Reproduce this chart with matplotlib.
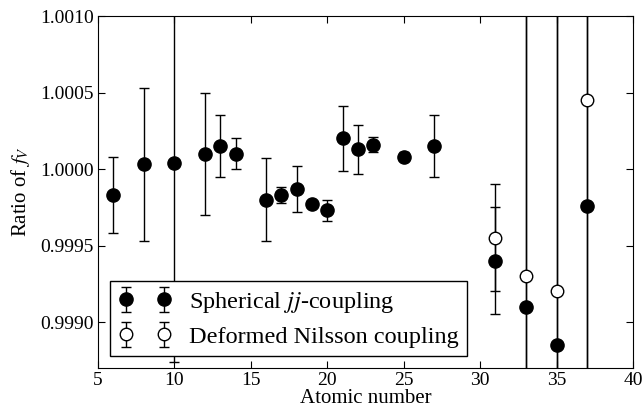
import numpy as np
import matplotlib
matplotlib.use("Agg")
import matplotlib.pyplot as plt

plt.rcParams['font.family'] = ['Liberation Serif', 'DejaVu Serif']
plt.rcParams['mathtext.fontset'] = 'stix'

# Spherical jj-coupling (filled)
z_sph = [6, 8, 10, 12, 13, 14, 16, 17, 18, 19, 20, 21, 22, 23, 25, 27, 31, 33, 35, 37]
r_sph = [0.99983, 1.00003, 1.00004, 1.00010, 1.00015, 1.00010, 0.99980, 0.99983,
         0.99987, 0.99977, 0.99973, 1.00020, 1.00013, 1.00016, 1.00008, 1.00015,
         0.99940, 0.99910, 0.99885, 0.99976]
e_sph = [0.00025, 0.00050, 0.00130, 0.00040, 0.00020, 0.00010, 0.00027, 0.00005,
         0.00015, 0.00002, 0.00007, 0.00021, 0.00016, 0.00005, 0.00003, 0.00020,
         0.00035, 0.00500, 0.00500, 0.00500]

# Deformed Nilsson coupling (open)
z_def = [31, 33, 35, 37]
r_def = [0.99955, 0.99930, 0.99920, 1.00045]
e_def = [0.00035, 0.00500, 0.00500, 0.00500]

fig = plt.figure(figsize=(6.42, 4.15), dpi=100)
ax = fig.add_axes([0.1527, 0.1133, 0.8333, 0.8481])

ax.errorbar(z_sph, r_sph, yerr=e_sph, fmt='o', color='black', ms=9.5,
            capsize=3.5, elinewidth=1, capthick=1, label='Spherical $jj$-coupling')
ax.errorbar(z_def, r_def, yerr=e_def, fmt='o', color='black', mfc='white', ms=9,
            capsize=3.5, elinewidth=1, capthick=1, label='Deformed Nilsson coupling')

ax.set_xlim(5, 40)
ax.set_ylim(0.99870, 1.00100)
ax.set_xticks(np.arange(5, 41, 5))
ax.set_yticks([0.9990, 0.9995, 1.0000, 1.0005, 1.0010])
ax.set_yticklabels(['0.9990', '0.9995', '1.0000', '1.0005', '1.0010'])
ax.tick_params(direction='in', top=True, right=True, length=5, labelsize=14, pad=3)
ax.set_xlabel('Atomic number', fontsize=15, labelpad=0)
ax.set_ylabel('Ratio of $f_V$', fontsize=15, labelpad=6)

leg = ax.legend(loc='lower left', numpoints=2, fontsize=17.5, fancybox=False,
                edgecolor='black', framealpha=1, bbox_to_anchor=(0.022, 0.033),
                borderaxespad=0, handlelength=2.2, handletextpad=0.7,
                labelspacing=0.45, borderpad=0.35)
leg.get_frame().set_linewidth(1)

fig.savefig('out.png', dpi=100)
